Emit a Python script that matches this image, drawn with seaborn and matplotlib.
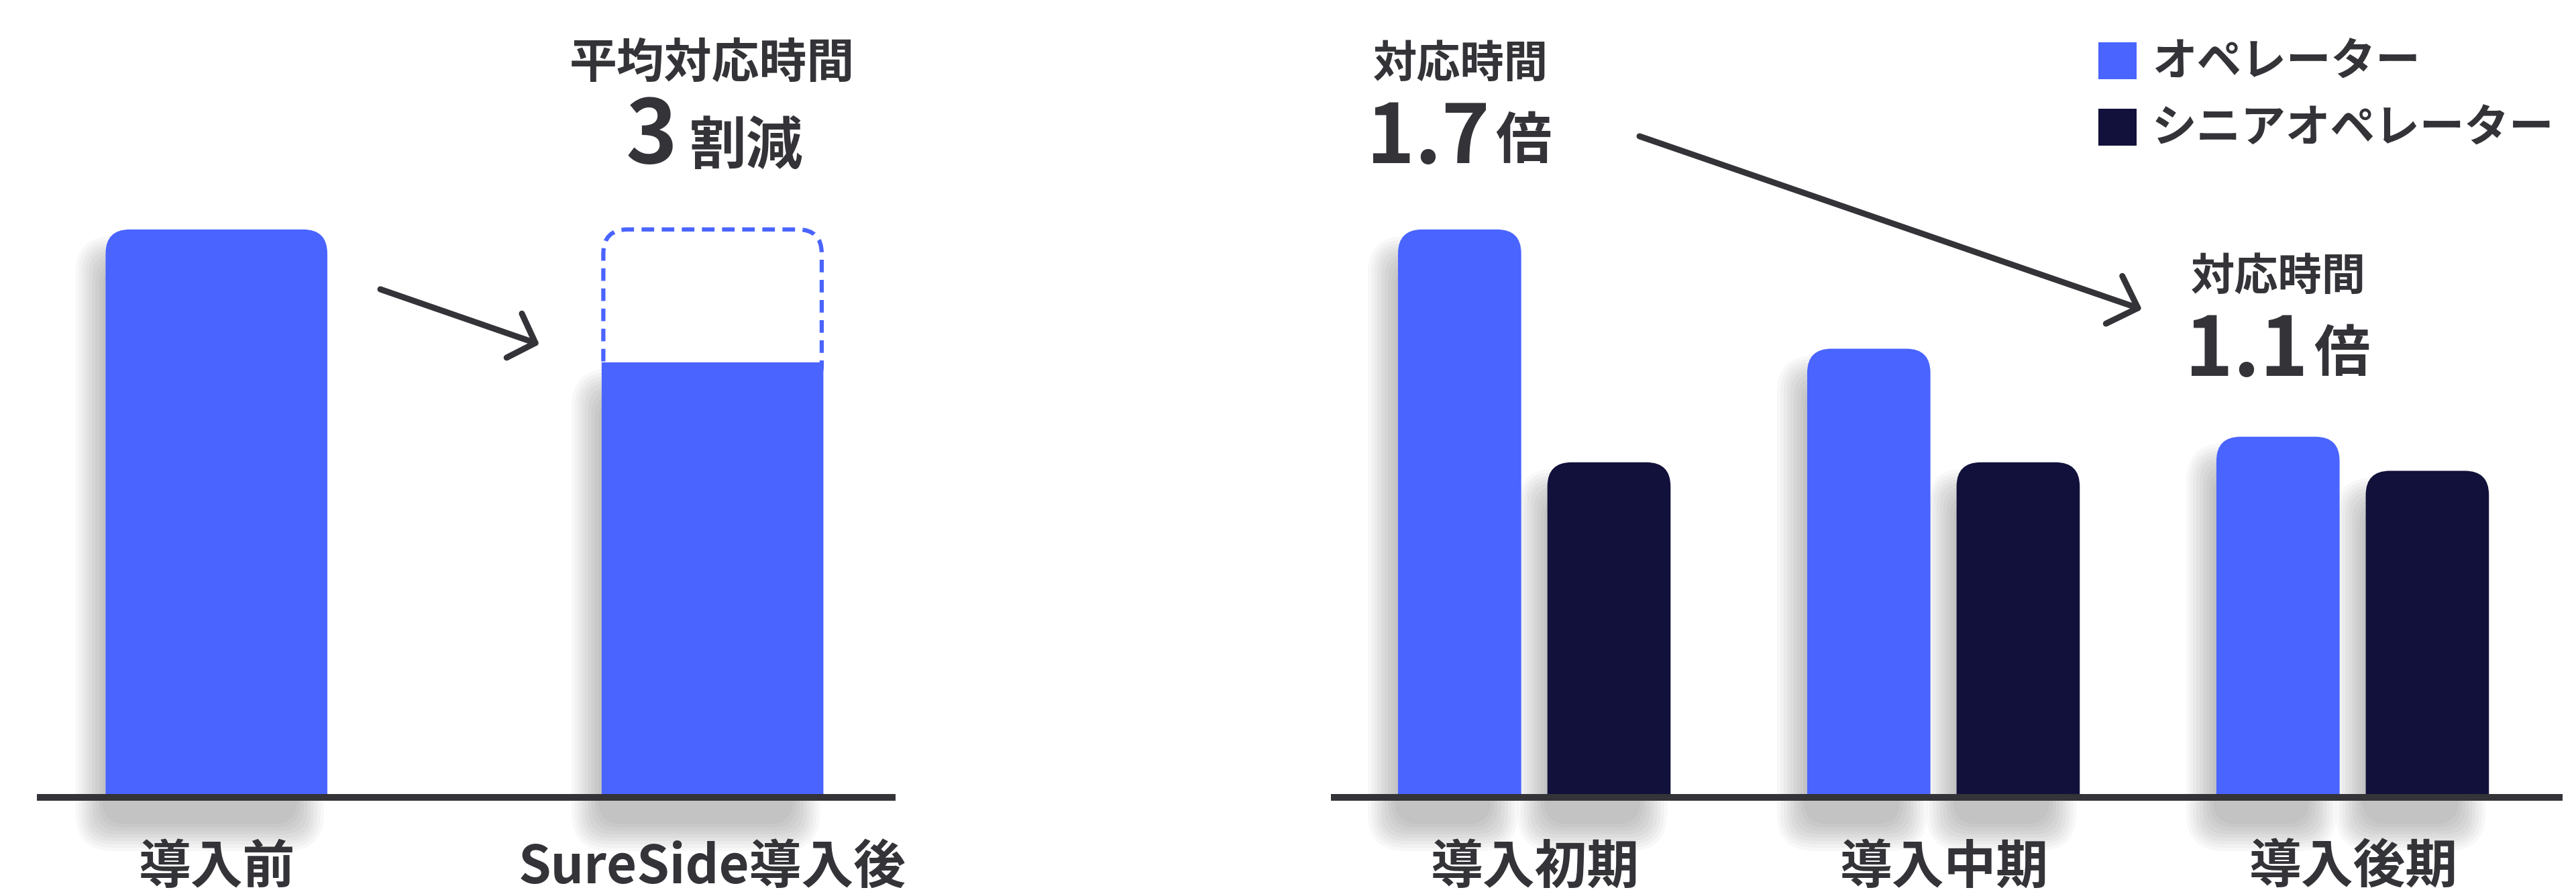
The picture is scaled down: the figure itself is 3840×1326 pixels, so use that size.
import pandas as pd
import matplotlib
matplotlib.use("Agg")
import matplotlib.pyplot as plt
import seaborn as sns
from matplotlib.patches import FancyBboxPatch, Rectangle

# --- data ---
compare_labels = ["導入前", "SureSide導入後"]
compare_values = [100, 76.6]

phase_labels = ["導入初期", "導入中期", "導入後期"]
series_names = ["オペレーター", "シニアオペレーター"]
operator_values = [100, 79, 63.5]
senior_values = [59, 59, 57.5]

BLUE = "#4A64FF"
NAVY = "#12113B"
INK = "#333338"

sns.set_theme(style="white")
plt.rcParams["font.family"] = ["Noto Sans CJK JP", "DejaVu Sans"]

W, H = 3840, 1326
fig = plt.figure(figsize=(W / 100, H / 100), dpi=100)
fig.patch.set_facecolor("white")


def px_axes(x0, x1, y_top, y_base):
    return fig.add_axes([x0 / W, (H - y_base) / H, (x1 - x0) / W, (y_base - y_top) / H])


def put(x, y, s, **kw):
    kw.setdefault("color", INK)
    kw.setdefault("fontweight", "bold")
    return fig.text(x / W, 1 - y / H, s, **kw)


def px_scale(ax):
    p0 = ax.transData.transform((0, 0))
    p1 = ax.transData.transform((1, 1))
    return p1[0] - p0[0], p1[1] - p0[1]


def round_bars(ax, radius=36, square=(), shadow_dx=-25, shadow_drop=60):
    """replace seaborn's square bars by bars with rounded tops + soft shadow"""
    sx, sy = px_scale(ax)
    rx, ry = radius / sx, radius / sy
    boxes = []
    for k, bar in enumerate(list(ax.patches)):
        x, w, h = bar.get_x(), bar.get_width(), bar.get_height()
        fc = bar.get_facecolor()
        bar.remove()
        # cheap blurred shadow: stacked translucent boxes
        for i in range(9):
            e = -20 + 5 * i
            ex, ey = e / sx, e / sy
            sh = FancyBboxPatch(
                (x + shadow_dx / sx - ex, -shadow_drop / sy - ey),
                w + 2 * ex, h - 30 / sy + shadow_drop / sy + 2 * ey,
                boxstyle=f"round,pad=0,rounding_size={rx + max(ex, 0)}",
                mutation_aspect=sx / sy,
                fc="black", ec="none", alpha=0.028, clip_on=False, zorder=0.5)
            ax.add_patch(sh)
        r = 0 if k in square else rx
        ax.add_patch(FancyBboxPatch(
            (x, -ry), w, h + ry,
            boxstyle=f"round,pad=0,rounding_size={r}",
            mutation_aspect=sx / sy, fc=fc, ec="none", zorder=2))
        boxes.append((x, w, h))
    return boxes


def style_axes(ax):
    sns.despine(ax=ax, left=True, bottom=True)
    ax.set_yticks([])
    ax.set_xlabel("")
    ax.set_ylabel("")
    ax.set_facecolor("none")
    ax.tick_params(axis="x", length=0, pad=47, labelsize=56, labelcolor=INK)
    for lab in ax.get_xticklabels():
        lab.set_fontweight("bold")
    ax.axhline(0, color=INK, lw=7.2, solid_capstyle="butt", clip_on=False, zorder=3)


# --- left panel: before / after ---
ax1 = px_axes(55, 1335, 0, 1188)
df1 = pd.DataFrame({"stage": compare_labels, "time": compare_values})
sns.barplot(data=df1, x="stage", y="time", color=BLUE, saturation=1,
            width=0.447, ax=ax1)
ax1.set_xlim(-0.362, 1.369)
ax1.set_ylim(0, 140.4)
style_axes(ax1)
boxes1 = round_bars(ax1, square=(1,))

# dashed outline showing the old level on the "after" bar (bottom hidden by the bar)
sx1, sy1 = px_scale(ax1)
bx, bw, bh = boxes1[1]
ax1.add_patch(FancyBboxPatch(
    (bx + 2.5 / sx1, bh - 40 / sy1), bw - 5 / sx1, compare_values[0] - bh + 40 / sy1,
    boxstyle=f"round,pad=0,rounding_size={36 / sx1}",
    mutation_aspect=sx1 / sy1, fc="white", ec=BLUE, lw=4.5,
    linestyle=(0, (3.0, 1.8)), zorder=1.8, clip_on=False))

# --- right panel: operator vs senior ---
ax2 = px_axes(1984, 3820, 0, 1188)
df2 = pd.DataFrame({
    "phase": phase_labels * 2,
    "series": [series_names[0]] * 3 + [series_names[1]] * 3,
    "time": operator_values + senior_values,
})
sns.barplot(data=df2, x="phase", y="time", hue="series",
            palette=[BLUE, NAVY], saturation=1, width=0.73, gap=0.175,
            legend=False, ax=ax2)
ax2.set_xlim(-0.497, 2.513)
ax2.set_ylim(0, 140.4)
style_axes(ax2)
round_bars(ax2)

# --- annotations ---
put(1061, 116, "平均対応時間", fontsize=51, ha="center", va="baseline")
put(1010, 243, "3", fontsize=94, ha="right", va="baseline")
put(1028, 244, "割減", fontsize=61, ha="left", va="baseline")

put(2177, 115, "対応時間", fontsize=47, ha="center", va="baseline")
put(2221, 243, "1.7", fontsize=88, ha="right", va="baseline")
put(2229, 236, "倍", fontsize=60, ha="left", va="baseline")

put(3396, 432, "対応時間", fontsize=47, ha="center", va="baseline")
put(3441, 560, "1.1", fontsize=88, ha="right", va="baseline")
put(3449, 553, "倍", fontsize=60, ha="left", va="baseline")

arrow = dict(lw=6.5, color=INK, shrinkA=0, shrinkB=0, mutation_scale=1,
             capstyle="round", joinstyle="round")
ax1.annotate("", xy=(804, H - 513), xytext=(567, H - 431),
             xycoords="figure pixels", textcoords="figure pixels",
             arrowprops=dict(arrowstyle="->,head_length=24,head_width=25", **arrow))
ax2.annotate("", xy=(3193, H - 461), xytext=(2444, H - 203),
             xycoords="figure pixels", textcoords="figure pixels",
             arrowprops=dict(arrowstyle="->,head_length=27,head_width=27", **arrow))

# --- legend ---
for i, (name, col) in enumerate(zip(series_names, [BLUE, NAVY])):
    top = 63 + 99 * i
    fig.add_artist(Rectangle((3128 / W, 1 - (top + 55) / H), 57 / W, 55 / H,
                             transform=fig.transFigure, fc=col, ec="none"))
    put(3208, top + 50, name, fontsize=48, ha="left", va="baseline")

fig.savefig("out.png", dpi=100, facecolor="white")
